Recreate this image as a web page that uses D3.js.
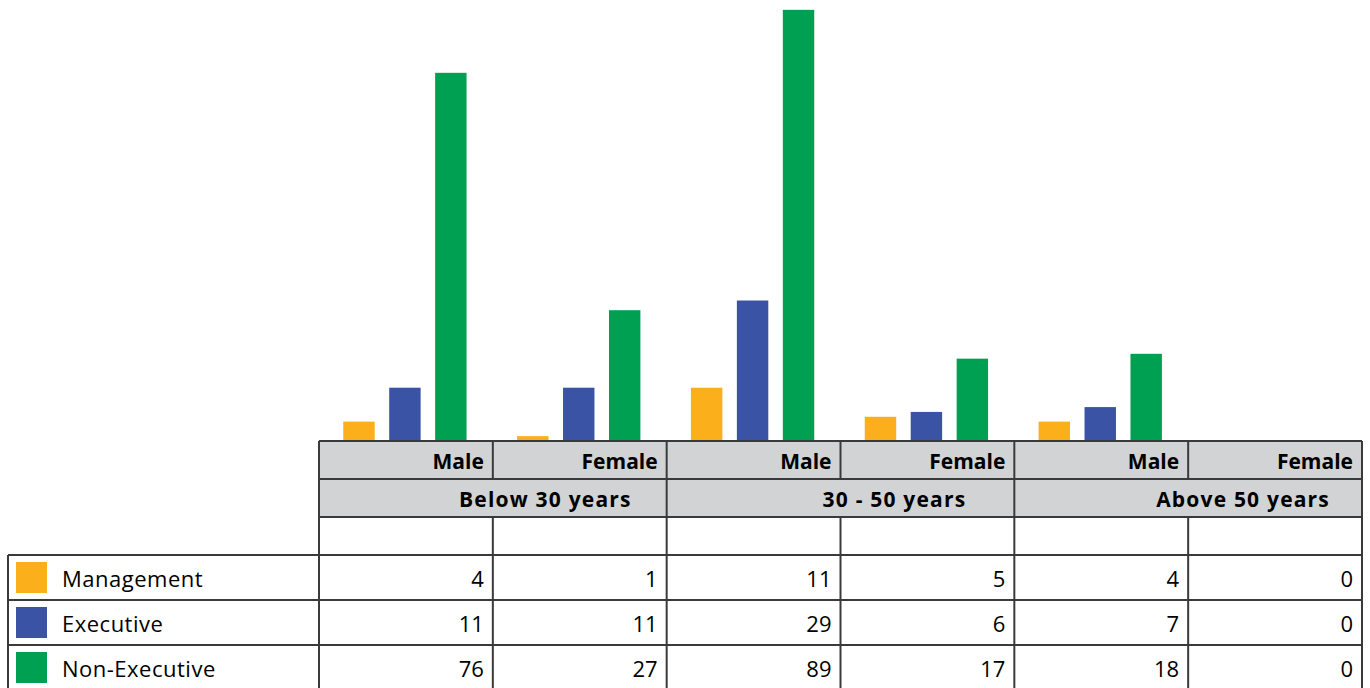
<!DOCTYPE html>
<html>
<head>
<meta charset="utf-8">
<script src="https://cdn.jsdelivr.net/npm/d3@7"></script>
<style>
  body { margin: 0; background: #fff; }
  svg { display: block; font-family: 'Open Sans', Lato, sans-serif; }
</style>
</head>
<body>
<div class="chart"></div>
<script>
// chart data
var ageGroups = ['Below 30 years', '30 - 50 years', 'Above 50 years'];
var genders = ['Male', 'Female'];
var series = ['Management', 'Executive', 'Non-Executive'];
var management = [4, 1, 11, 5, 4, 0];
var executive = [11, 11, 29, 6, 7, 0];
var nonExecutive = [76, 27, 89, 17, 18, 0];
var seriesColors = ['#fbaf1a', '#3a53a4', '#00a052'];

var values = [management, executive, nonExecutive];

var svgWidth = 1370;
var svgHeight = 688;
var tableLeft = 319;
var tableRight = 1362;
var legendLeft = 8;
var baseline = 441;
var headRow = 38;
var dataRow = 45;
var lineColor = '#3a3a3a';

// column keys: one per age group / gender pair
var columns = [];
ageGroups.forEach(function(a) {
  genders.forEach(function(g) {
    columns.push(a + '|' + g);
  });
});

var svg = d3.select('.chart').append('svg')
  .attr('width', svgWidth)
  .attr('height', svgHeight);

var x0 = d3.scaleBand()
  .domain(columns)
  .range([tableLeft, tableRight]);

var x1 = d3.scaleBand()
  .domain(series)
  .range([0, x0.bandwidth()])
  .paddingInner(0.316)
  .paddingOuter(0.55);

var yScale = d3.scaleLinear()
  .domain([0, 90])
  .range([baseline, 5]);

// bars
var groups = svg.selectAll('g.col')
  .data(columns)
  .enter()
  .append('g')
  .attr('class', 'col')
  .attr('transform', function(d) { return 'translate(' + (x0(d) - 1) + ',0)'; });

groups.selectAll('rect')
  .data(function(d, i) {
    return series.map(function(s, j) { return { s: s, v: values[j][i], c: seriesColors[j] }; });
  })
  .enter()
  .append('rect')
  .attr('x', function(d) { return x1(d.s); })
  .attr('y', function(d) { return yScale(d.v); })
  .attr('width', x1.bandwidth())
  .attr('height', function(d) { return baseline - yScale(d.v); })
  .attr('fill', function(d) { return d.c; });

// table layout
var rowGender = baseline;
var rowAge = rowGender + headRow;
var rowBlank = rowAge + headRow;
var rowData = rowBlank + headRow;
var tableBottom = rowData + dataRow * 3 + 2;

// gray header background
svg.append('rect')
  .attr('x', tableLeft)
  .attr('y', rowGender)
  .attr('width', tableRight - tableLeft)
  .attr('height', headRow * 2)
  .attr('fill', '#d1d3d4');

var grid = svg.append('g')
  .attr('stroke', lineColor)
  .attr('stroke-width', 2);

// horizontal lines
[rowGender, rowAge, rowBlank].forEach(function(y) {
  grid.append('line').attr('x1', tableLeft).attr('x2', tableRight).attr('y1', y).attr('y2', y);
});
[0, 1, 2].forEach(function(i) {
  var y = rowData + i * dataRow;
  grid.append('line').attr('x1', legendLeft).attr('x2', tableRight).attr('y1', y).attr('y2', y);
});

// vertical lines (age row has no divider between male / female)
var bounds = columns.map(function(c) { return x0(c); }).concat([tableRight]);
bounds.forEach(function(x, i) {
  if (i % 2 === 1) {
    grid.append('line').attr('x1', x).attr('x2', x).attr('y1', rowGender).attr('y2', rowAge);
    grid.append('line').attr('x1', x).attr('x2', x).attr('y1', rowBlank).attr('y2', tableBottom);
  } else {
    grid.append('line').attr('x1', x).attr('x2', x).attr('y1', rowGender).attr('y2', tableBottom);
  }
});
grid.append('line').attr('x1', legendLeft).attr('x2', legendLeft).attr('y1', rowData).attr('y2', tableBottom);

// gender header labels
svg.selectAll('text.gender')
  .data(columns)
  .enter()
  .append('text')
  .attr('class', 'gender')
  .attr('x', function(d) { return x0(d) + x0.bandwidth() - 9; })
  .attr('y', rowGender + headRow / 2 + 1)
  .attr('text-anchor', 'end')
  .attr('dominant-baseline', 'central')
  .style('font-size', '21px')
  .style('font-weight', 'bold')
  .text(function(d) { return d.split('|')[1]; });

// age group labels
var ageOffsets = [35, 48, 32];
svg.selectAll('text.age')
  .data(ageGroups)
  .enter()
  .append('text')
  .attr('class', 'age')
  .attr('x', function(d, i) { return x0(d + '|Female') + x0.bandwidth() - ageOffsets[i]; })
  .attr('y', rowAge + headRow / 2 + 1)
  .attr('text-anchor', 'end')
  .attr('dominant-baseline', 'central')
  .style('font-size', '21px')
  .style('font-weight', 'bold')
  .style('letter-spacing', '1.2px')
  .text(function(d) { return d; });

// legend rows and values
series.forEach(function(s, j) {
  var yTop = rowData + j * dataRow;
  svg.append('rect')
    .attr('x', 16)
    .attr('y', yTop + 7)
    .attr('width', 31)
    .attr('height', 31)
    .attr('fill', seriesColors[j]);
  svg.append('text')
    .attr('x', 62)
    .attr('y', yTop + dataRow / 2)
    .attr('dominant-baseline', 'central')
    .style('font-size', '22px')
    .style('letter-spacing', '0.5px')
    .text(s);

  svg.selectAll('text.val' + j)
    .data(values[j])
    .enter()
    .append('text')
    .attr('x', function(d, i) { return x0(columns[i]) + x0.bandwidth() - 9; })
    .attr('y', yTop + dataRow / 2)
    .attr('text-anchor', 'end')
    .attr('dominant-baseline', 'central')
    .style('font-size', '22px')
    .text(function(d) { return d; });
});
</script>
</body>
</html>
